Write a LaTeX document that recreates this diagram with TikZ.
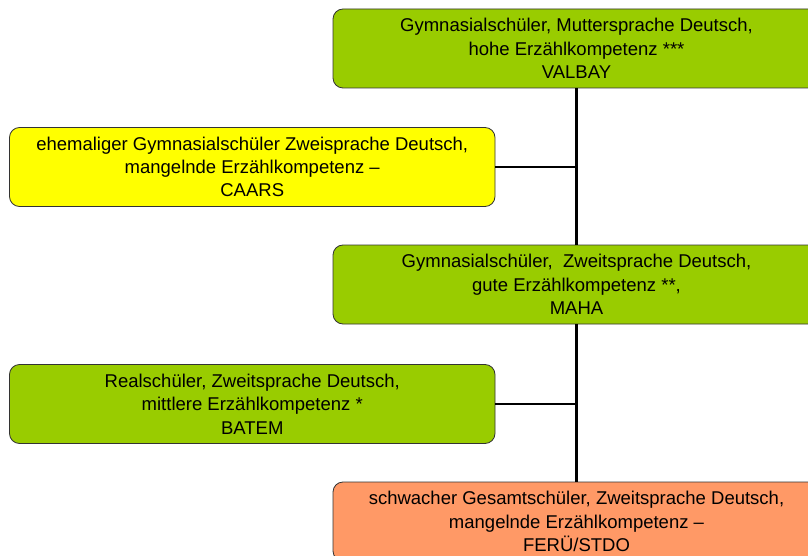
\documentclass[tikz,border=0pt]{standalone}
\usepackage{fontspec}
\setmainfont{Liberation Sans}
\definecolor{boxgreen}{HTML}{99CC00}
\definecolor{boxyellow}{HTML}{FFFF00}
\definecolor{boxorange}{HTML}{FF9966}
\definecolor{boxline}{HTML}{333333}
\begin{document}
\begin{tikzpicture}[x=1pt,y=-1pt,
  card/.style={draw=boxline,line width=0.8pt,rounded corners=10pt,
    minimum width=487pt,minimum height=79pt,align=center,inner sep=0pt,
    font=\fontsize{18.5}{23.3}\selectfont,text=black},
  link/.style={line width=2.2pt,black}]
\useasboundingbox (0,0) rectangle (808,556);
\clip (0,0) rectangle (808,556);
\node[card,fill=boxgreen] (valbay) at (576.5,48.5) {Gymnasialschüler, Muttersprache Deutsch,\\hohe Erzählkompetenz ***\\VALBAY};
\node[card,fill=boxyellow,minimum width=485.5pt] (caars) at (252.25,167) {ehemaliger Gymnasialschüler Zweisprache Deutsch,\\mangelnde Erzählkompetenz –\\CAARS};
\node[card,fill=boxgreen] (maha) at (576.5,284.5) {Gymnasialschüler,\ \ Zweitsprache Deutsch,\\gute Erzählkompetenz **,\\MAHA};
\node[card,fill=boxgreen,minimum width=485.5pt] (batem) at (252.25,404) {Realschüler, Zweitsprache Deutsch,\\mittlere Erzählkompetenz *\\BATEM};
\node[card,fill=boxorange] (feru) at (576.5,521.5) {schwacher Gesamtschüler, Zweitsprache Deutsch,\\mangelnde Erzählkompetenz –\\FERÜ/STDO};
\draw[link] (valbay.south) -- (maha.north);
\draw[link] (maha.south) -- (feru.north);
\draw[link] (caars.east) -- (caars.east -| valbay.south);
\draw[link] (batem.east) -- (batem.east -| maha.south);
\end{tikzpicture}
\end{document}
